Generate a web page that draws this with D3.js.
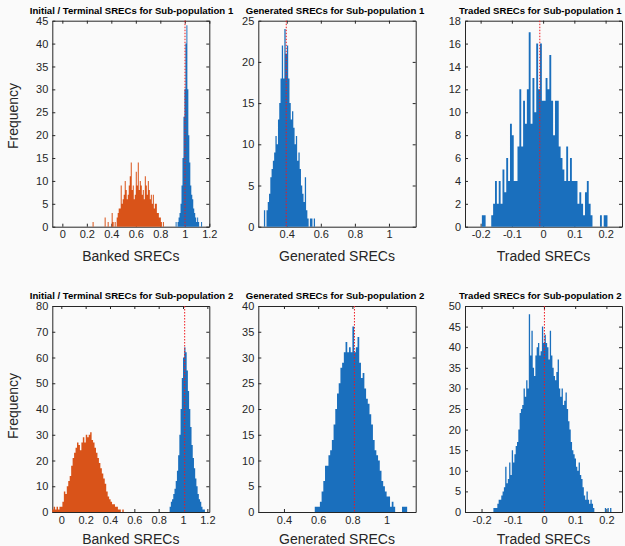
<!DOCTYPE html>
<html>
<head>
<meta charset="utf-8">
<script src="https://cdn.jsdelivr.net/npm/d3@7"></script>
<style>
  body { margin: 0; background: #fafafa; }
  svg { display: block; font-family: "Liberation Sans", Arial, Helvetica, sans-serif; }
</style>
</head>
<body>
<svg id="chart" width="625" height="546"></svg>
<script>
// ---- data (bin start, bin width, counts per bin) ----
const p1OrangeBins = [0.247, 0.0082];
const p1OrangeCounts = [1,0,0,0,0,0,0,0,0,0, 0,0,2,0,0,1,0,0,0,3, 1,0,1,0,2,3,4,4,9,5,
  6,7,10,8,6,7,9,11,14,8, 9,6,7,12,9,14,8,10,9,7, 8,6,11,9,7,10,8,6,7,5, 7,4,5,5,3,3,2,2,1,0, 1];
const p1BlueBins = [0.925, 0.008];
const p1BlueCounts = [1,0,1,2,3,5,9,15,24,30, 40,44,30,20,14,9,7,6,4,3, 2,1,2,1,0,0,1];

const p2Bins = [0.266, 0.0075];
const p2Counts = [2,0,2,3,4,6,7,8,9,11, 10,13,15,18,22,18,24,21,22,18,
  15,13,14,12,10,11,8,9,7,5, 4,3,6,2,1,0,1,1,0,1];

const p3Bins = [-0.196, 0.006];
const p3Counts = [1,1,0,0,0,1,2,4,2,4, 2,5,3,6,4,9,8,4,4,7, 12,7,11,9,12,17,9,13,10,16,
  12,16,11,11,13,12,15,11,8,11, 11,7,6,5,4,7,4,6,4,4, 4,2,3,2,1,3,4,2,1,0, 0,0,0,1,0,1,1];

const p4OrangeBins = [-0.075, 0.012];
const p4OrangeCounts = [1,2,1,2,1,2,2,4,8,7, 10,12,14,18,21,23,25,27,26,24,
  27,29,27,30,29,30,31,28,27,25, 23,21,19,17,15,13,11,8,6,5, 4,3,3,2,2,1,1,0,1];
const p4BlueBins = [0.89, 0.01];
const p4BlueCounts = [2,4,5,7,9,12,16,22,30,40, 52,60,64,62,55,47,40,33,26,21,
  17,13,10,7,5,4,2,1,1];

const p5Bins = [0.58, 0.01];
const p5Counts = [1,1,1,2,4,6,9,9,11,12, 14,17,20,23,25,28,29,31,33,31,
  32,31,36,31,32,34,29,26,27,24, 22,21,19,17,14,12,11,10,8,6, 5,4,3,3,1,2,1,0,0,0, 0,1,1,1];

const p6Bins = [-0.162, 0.0042];
const p6Counts = [1,1,1,2,3,3,4,5,6,11, 7,8,12,9,15,12,14,16,17,20,
  24,25,26,30,28,32,30,48,38,44, 35,33,38,40,41,38,39,45,41,43,
  41,40,37,44,38,35,33,32,34,37, 30,28,30,26,27,29,25,22,20,17,
  15,14,13,11,10,12,9,8,6,4, 3,5,3,2,3,2,1,0,0,0, 0,0,0,0,0,1,0,1,0,1];

// reference (mean) lines
const markers = [1.0016, 0.397, -0.0106, 1.0137, 0.812, 0.0015];

const titles = [
  "Initial / Terminal SRECs for Sub-population 1",
  "Generated SRECs for Sub-population 1",
  "Traded SRECs for Sub-population 1",
  "Initial / Terminal SRECs for Sub-population 2",
  "Generated SRECs for Sub-population 2",
  "Traded SRECs for Sub-population 2"
];
const xLabels = ["Banked SRECs", "Generated SRECs", "Traded SRECs"];
const yLabel = "Frequency";

const bankedTicks = [0, 0.2, 0.4, 0.6, 0.8, 1, 1.2];
const generatedTicks = [0.4, 0.6, 0.8, 1];
const tradedTicks = [-0.2, -0.1, 0, 0.1, 0.2];
const xLimits = [[-0.082, 1.2], [0.233, 1.157], [-0.25, 0.2525],
                 [-0.074, 1.216], [0.25, 1.17], [-0.253, 0.25]];
const yMax = [45, 25, 18, 80, 40, 50];
const yStep = [5, 5, 2, 10, 5, 5];

// ---- layout ----
const colX = [[52.3, 209.3], [258.3, 415.7], [465, 622]];
const rowY = [[20.7, 226.7], [306, 512]];
const titleX = [131.5, 335, 540.3];
const blue = "#1a6fbd", orange = "#d95319", ink = "#262626";
const font = "'Liberation Sans', Arial, Helvetica, sans-serif";

const svg = d3.select("#chart");

const panels = [
  { series: [[p1OrangeBins, p1OrangeCounts, orange], [p1BlueBins, p1BlueCounts, blue]], ticks: bankedTicks },
  { series: [[p2Bins, p2Counts, blue]], ticks: generatedTicks },
  { series: [[p3Bins, p3Counts, blue]], ticks: tradedTicks },
  { series: [[p4OrangeBins, p4OrangeCounts, orange], [p4BlueBins, p4BlueCounts, blue]], ticks: bankedTicks },
  { series: [[p5Bins, p5Counts, blue]], ticks: generatedTicks },
  { series: [[p6Bins, p6Counts, blue]], ticks: tradedTicks }
];

function styleAxis(sel) {
  sel.attr("font-family", font).attr("font-size", 11);
  sel.selectAll("path, line").attr("stroke", ink).attr("stroke-width", 1);
  sel.selectAll("text").attr("fill", ink);
}

panels.forEach((p, k) => {
  const col = k % 3, row = Math.floor(k / 3);
  const [x0, x1] = colX[col], [y0, y1] = rowY[row];

  const x = d3.scaleLinear().domain(xLimits[k]).range([x0, x1]);
  const y = d3.scaleLinear().domain([0, yMax[k]]).range([y1, y0]);
  const yTicks = d3.range(0, yMax[k] + yStep[k] / 2, yStep[k]);
  const g = svg.append("g");

  // axes (drawn under the bars, like MATLAB's default layer)
  g.append("g").attr("transform", `translate(0,${y1})`)
    .call(d3.axisBottom(x).tickValues(p.ticks).tickFormat(d => String(d))
      .tickSizeInner(-3).tickSizeOuter(0).tickPadding(4))
    .call(styleAxis);
  g.append("g").attr("transform", `translate(0,${y0})`)
    .call(d3.axisTop(x).tickValues(p.ticks).tickFormat("")
      .tickSizeInner(-3).tickSizeOuter(0))
    .call(styleAxis);
  g.append("g").attr("transform", `translate(${x0},0)`)
    .call(d3.axisLeft(y).tickValues(yTicks).tickFormat(d => String(d))
      .tickSizeInner(-3).tickSizeOuter(0).tickPadding(4))
    .call(styleAxis);
  g.append("g").attr("transform", `translate(${x1},0)`)
    .call(d3.axisRight(y).tickValues(yTicks).tickFormat("")
      .tickSizeInner(-3).tickSizeOuter(0))
    .call(styleAxis);

  // histogram bars, one stepped shape per series so neighbouring bins do not leave seams
  p.series.forEach(([bins, counts, color]) => {
    const [start, w] = bins;
    const pts = counts.map((c, i) => [start + i * w, c]);
    pts.push([start + counts.length * w, counts[counts.length - 1]]);
    const area = d3.area()
      .x(d => x(d[0]))
      .y0(y(0))
      .y1(d => y(d[1]))
      .curve(d3.curveStepAfter);
    g.append("path").datum(pts).attr("d", area).attr("fill", color);
  });

  // mean marker
  g.append("line")
    .attr("x1", x(markers[k])).attr("x2", x(markers[k]))
    .attr("y1", y(yMax[k])).attr("y2", y(0))
    .attr("stroke", "#f0191e").attr("stroke-width", 1)
    .attr("stroke-dasharray", "1.5,1.5");

  // title
  g.append("text")
    .attr("x", titleX[col]).attr("y", row === 0 ? 13.8 : 299.2)
    .attr("text-anchor", "middle")
    .attr("font-size", 9.6).attr("font-weight", "bold").attr("fill", "#000")
    .text(titles[k]);

  // x label
  g.append("text")
    .attr("x", (x0 + x1) / 2).attr("y", row === 0 ? 260.6 : 544)
    .attr("text-anchor", "middle")
    .attr("font-size", 14).attr("fill", ink)
    .text(xLabels[col]);

  // y label
  if (col === 0) {
    g.append("text")
      .attr("transform", `translate(17.5,${row === 0 ? 116 : 406}) rotate(-90)`)
      .attr("text-anchor", "middle")
      .attr("font-size", 14).attr("fill", ink)
      .text(yLabel);
  }
});
</script>
</body>
</html>
